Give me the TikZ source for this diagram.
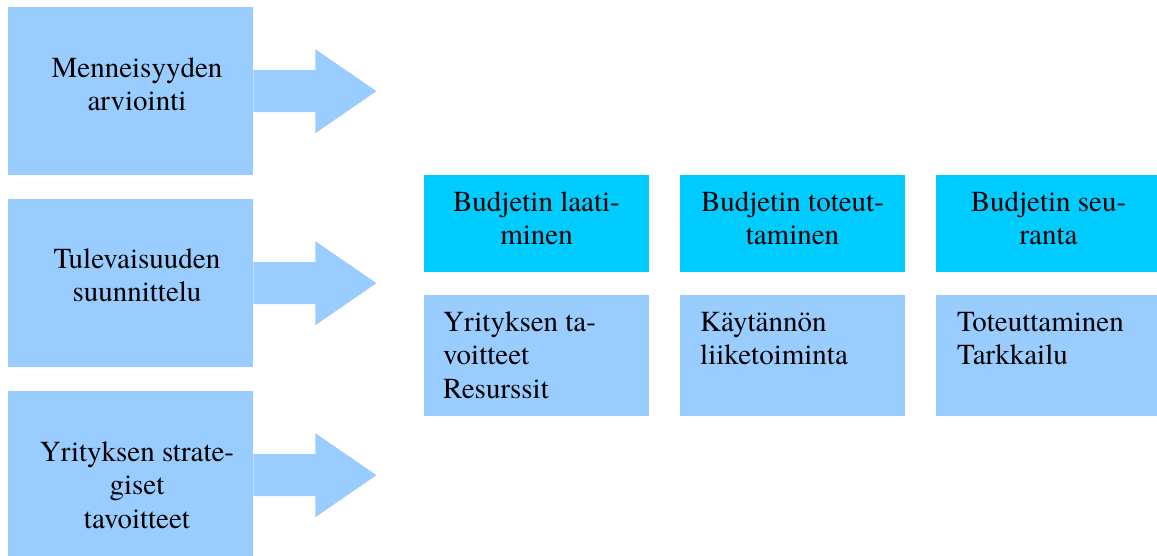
\documentclass[tikz,border=0pt]{standalone}
\usepackage{fontspec}
\setmainfont{texgyretermes}[Extension=.otf, UprightFont=*-regular, BoldFont=*-bold, ItalicFont=*-italic, BoldItalicFont=*-bolditalic]
\usetikzlibrary{calc}
\definecolor{lightblue}{HTML}{99CCFF}
\definecolor{cyanblue}{HTML}{00CCFF}
\newcommand{\tstrut}{\rule{0pt}{27pt}}
\begin{document}
\begin{tikzpicture}[x=1pt,y=-1pt,
  txt/.style={font={\rmfamily\fontsize{29}{33.5}\selectfont}, inner sep=0pt, text=black},
  leftbox/.style={fill=lightblue, draw=none, minimum width=245pt, minimum height=168pt, inner sep=0pt, anchor=north west},
  topbox/.style={fill=cyanblue, draw=none, minimum width=225pt, minimum height=97pt, inner sep=0pt, anchor=north west},
  botbox/.style={fill=lightblue, draw=none, minimum width=225pt, minimum height=121pt, inner sep=0pt, anchor=north west},
  ctext/.style={txt, align=center, anchor=north},
  ltext/.style={txt, align=left, anchor=north west},
  blockarrow/.style={fill=lightblue, draw=none}
]
\useasboundingbox (0,0) rectangle (1157,556);
\clip (0,0) rectangle (1157,556);

% left column boxes
\node[leftbox] (b1) at (8,7) {};
\node[leftbox] (b2) at (8,199) {};
\node[leftbox] (b3) at (8,391) {};

\node[ctext] (t1) at (137,50) {\tstrut Menneisyyden\\arviointi};
\node[ctext] (t2) at (137,241) {\tstrut Tulevaisuuden\\suunnittelu};
\node[ctext] (t3) at (137,434) {\tstrut Yrityksen strate-\\giset\\tavoitteet};

% block arrows
\foreach \b in {b1,b2,b3}{
  \fill[blockarrow] ($(\b.east)+(0,-21)$) -- ($(\b.east)+(62,-21)$) -- ($(\b.east)+(62,-42)$)
    -- ($(\b.east)+(123,0)$) -- ($(\b.east)+(62,42)$) -- ($(\b.east)+(62,21)$) -- ($(\b.east)+(0,21)$) -- cycle;
}

% top row
\node[topbox] (h1) at (424,175) {};
\node[topbox] (h2) at (680,175) {};
\node[topbox] (h3) at (936,175) {};
\node[ctext] (ht1) at (536.5,184) {\tstrut Budjetin laati-\\minen};
\node[ctext] (ht2) at (792.5,184) {\tstrut Budjetin toteut-\\taminen};
\node[ctext] (ht3) at (1048.5,184) {\tstrut Budjetin seu-\\ranta};

% bottom row
\node[botbox] (c1) at (424,295) {};
\node[botbox] (c2) at (680,295) {};
\node[botbox] (c3) at (936,295) {};
\node[ltext] (ct1) at (443,304) {\tstrut Yrityksen ta-\\voitteet\\Resurssit};
\node[ltext] (ct2) at (700,304) {\tstrut Käytännön\\liiketoiminta};
\node[ltext] (ct3) at (957,304) {\tstrut Toteuttaminen\\Tarkkailu};
\end{tikzpicture}
\end{document}
